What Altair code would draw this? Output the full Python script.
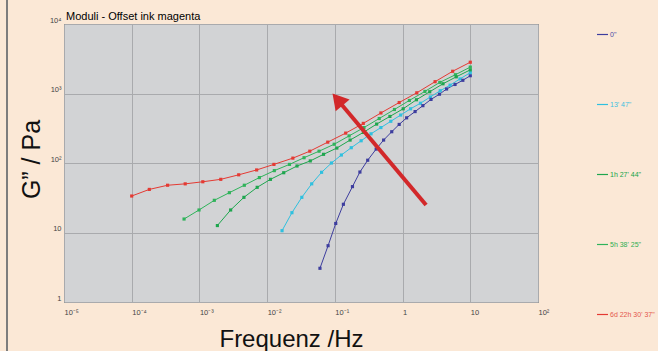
import altair as alt
import pandas as pd
import numpy as np

title_text = "Moduli - Offset ink magenta"

# series names (legend order) and colours
series_names = ['0"', "13' 47\"", "1h 27' 44\"", "5h 38' 25\"", "6d 22h 30' 37\""]
line_colors = ["#3d3d9e", "#2fc0df", "#1ea64e", "#2fb35a", "#e43a33"]
label_colors = ["#4a4aa6", "#3cbfe0", "#14a448", "#2fae52", "#e4574c"]

# log10(frequency / Hz) and log10(G'' / Pa)
blue_logf = [-1.22, -1.10, -0.987, -0.874, -0.74, -0.63, -0.515, -0.39, -0.28, -0.16,
             -0.05, 0.06, 0.185, 0.30, 0.42, 0.545, 0.65, 0.775, 0.89, 1.0]
blue_logg = [0.485, 0.81, 1.13, 1.406, 1.66, 1.87, 2.04, 2.20, 2.33, 2.45,
             2.555, 2.65, 2.74, 2.825, 2.915, 2.99, 3.065, 3.13, 3.19, 3.256]

cyan_logf = [-1.78, -1.634, -1.488, -1.342, -1.196, -1.05, -0.904, -0.758, -0.612, -0.466,
             -0.32, -0.174, -0.028, 0.118, 0.264, 0.41, 0.556, 0.702, 0.848, 1.0]
cyan_logg = [1.026, 1.285, 1.506, 1.70, 1.866, 2.0, 2.115, 2.22, 2.32, 2.42,
             2.51, 2.60, 2.69, 2.78, 2.86, 2.95, 3.04, 3.12, 3.21, 3.30]

green1_logf = [-2.735, -2.539, -2.343, -2.147, -1.951, -1.755, -1.559, -1.363, -1.167, -0.971,
               -0.775, -0.579, -0.383, -0.187, 0.009, 0.205, 0.401, 0.597, 0.793, 1.0]
green1_logg = [1.10, 1.324, 1.506, 1.65, 1.765, 1.86, 1.957, 2.03, 2.125, 2.215,
               2.33, 2.44, 2.56, 2.67, 2.78, 2.91, 3.025, 3.14, 3.24, 3.34]

green2_logf = [-3.227, -3.006, -2.78, -2.558, -2.337, -2.115, -1.894, -1.67, -1.455, -1.233,
               -1.01, -0.79, -0.57, -0.345, -0.12, 0.1, 0.33, 0.55, 0.78, 1.0]
green2_logg = [1.194, 1.324, 1.463, 1.573, 1.68, 1.79, 1.89, 1.98, 2.076, 2.17,
               2.27, 2.39, 2.51, 2.64, 2.77, 2.90, 3.03, 3.16, 3.27, 3.38]

red_logf = [-4.0, -3.74, -3.47, -3.21, -2.95, -2.685, -2.42, -2.155, -1.9, -1.62,
            -1.37, -1.105, -0.84, -0.58, -0.32, -0.05, 0.21, 0.48, 0.74, 1.0]
red_logg = [1.525, 1.62, 1.68, 1.70, 1.73, 1.765, 1.83, 1.90, 1.98, 2.07,
            2.17, 2.30, 2.43, 2.57, 2.72, 2.87, 3.01, 3.17, 3.32, 3.45]

# annotation arrow (log10 coordinates): tail -> shaft end, and head position
arrow_logf = [0.347, -0.92]
arrow_logg = [1.396, 2.863]
head_logf = [-0.96]
head_logg = [2.915]

x_ticks = [1e-5, 1e-4, 1e-3, 1e-2, 1e-1, 1, 10, 100]
y_ticks = [1, 10, 100, 1000, 10000]
sup_labels = ["10⁻⁵", "10⁻⁴", "10⁻³", "10⁻²", "10⁻¹", "1", "10", "10²", "10³", "10⁴"]

rows = []
for name, lf, lg in zip(series_names,
                        [blue_logf, cyan_logf, green1_logf, green2_logf, red_logf],
                        [blue_logg, cyan_logg, green1_logg, green2_logg, red_logg]):
    for a, b in zip(lf, lg):
        rows.append({"series": name, "f": 10 ** a, "g": 10 ** b})
df = pd.DataFrame(rows)

arrow_df = pd.DataFrame({"f": [10 ** arrow_logf[0]], "g": [10 ** arrow_logg[0]],
                         "f2": [10 ** arrow_logf[1]], "g2": [10 ** arrow_logg[1]]})
head_df = pd.DataFrame({"f": [10 ** v for v in head_logf], "g": [10 ** v for v in head_logg]})
title_df = pd.DataFrame({"t": [title_text]})

label_expr = "[" + ",".join("'" + s + "'" for s in sup_labels) + "][round(log(datum.value)/LN10)+5]"

xscale = alt.Scale(type="log", domain=[1e-5, 100])
yscale = alt.Scale(type="log", domain=[1, 10000])

xaxis = alt.Axis(values=x_ticks, labelExpr=label_expr, title="Frequenz /Hz",
                 titleFontSize=24, titleFont="Liberation Sans", titleFontWeight="normal",
                 titleColor="#111", titleX=227, titleY=44, titleBaseline="alphabetic",
                 titleAnchor="middle", titleAlign="center",
                 labelFontSize=7.5, labelColor="#444", labelAlign="left", labelPadding=6,
                 ticks=False, domain=False, grid=True, gridColor="#a9aaad", labelFlush=False)
yaxis = alt.Axis(values=y_ticks, labelExpr=label_expr, title="G” / Pa",
                 titleFontSize=25, titleFont="Liberation Sans", titleFontWeight="normal",
                 titleColor="#111", titleX=-25, titleY=135, titleBaseline="alphabetic",
                 titleAngle=-90, titleAlign="center",
                 labelFontSize=7.5, labelColor="#444", labelBaseline="bottom", labelPadding=3,
                 ticks=False, domain=False, grid=True, gridColor="#a9aaad", labelFlush=False)

label_color_expr = ("[" + ",".join("'" + c + "'" for c in label_colors) + "][indexof(["
                    + ",".join("'" + s.replace("'", "\\'") + "'" for s in series_names)
                    + "], datum.value)]")

lines = alt.Chart(df).mark_line(
    strokeWidth=1,
    point=alt.OverlayMarkDef(shape="square", size=10, filled=True, opacity=1),
).encode(
    x=alt.X("f:Q", scale=xscale, axis=xaxis),
    y=alt.Y("g:Q", scale=yscale, axis=yaxis),
    color=alt.Color("series:N", sort=series_names,
                    scale=alt.Scale(domain=series_names, range=line_colors),
                    legend=alt.Legend(title=None, orient="none", legendX=532, legendY=4,
                                      symbolType="stroke", symbolSize=121, symbolStrokeWidth=1.2,
                                      labelFontSize=7, labelFont="Liberation Sans",
                                      labelOffset=1, rowPadding=60,
                                      labelColor=alt.ExprRef(label_color_expr))),
    order="f:Q",
)

arrow = alt.Chart(arrow_df).mark_rule(color="#d2282a", strokeWidth=4).encode(
    x="f:Q", y="g:Q", x2="f2:Q", y2="g2:Q")
head = alt.Chart(head_df).mark_point(shape="triangle-up", angle=320, size=330,
                                     filled=True, color="#d2282a", opacity=1).encode(
    x="f:Q", y="g:Q")

edge = alt.Chart(head_df).mark_rule(color="#7d7d7d", strokeWidth=2).encode(
    x=alt.value(-57), y=alt.value(-30), y2=alt.value(330))

title = alt.Chart(title_df).mark_text(align="left", baseline="alphabetic", fontSize=11,
                                      font="Liberation Sans", color="#000").encode(
    text="t:N", x=alt.value(2), y=alt.value(-4))

chart = alt.layer(lines, arrow, head, edge, title).properties(
    width=474, height=278,
    autosize=alt.AutoSizeParams(type="none"),
    padding={"left": 64, "top": 24, "right": 120, "bottom": 49},
    background="#fbe8d6",
).configure_view(fill="#d2d3d5", stroke="#4a4a4a", strokeWidth=1)

chart.save("out.html", embed_options={"renderer": "svg", "actions": False})
